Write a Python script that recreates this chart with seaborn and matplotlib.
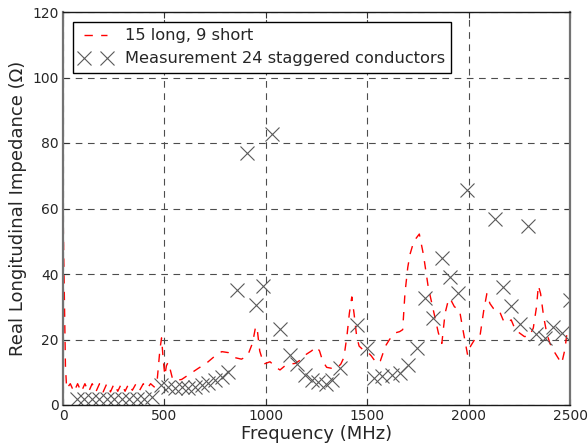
import numpy as np
import pandas as pd
import matplotlib
matplotlib.use("Agg")
import matplotlib.pyplot as plt
import seaborn as sns

# Simulated curve: 15 long, 9 short
sim_freq = [0, 6, 12, 18, 36, 54, 72, 90, 108, 126, 144, 162, 180, 198, 216, 234,
            252, 270, 288, 306, 324, 342, 360, 378, 396, 414, 432, 450, 465, 478,
            486, 494, 502, 510, 518, 528, 540, 555, 585, 626, 667, 708, 750, 783,
            815, 845, 880, 910, 935, 950, 958, 970, 990, 1021, 1050, 1070, 1095,
            1120, 1145, 1170, 1200, 1225, 1250, 1265, 1280, 1300, 1325, 1350, 1370,
            1385, 1400, 1412, 1424, 1435, 1448, 1460, 1480, 1500, 1520, 1547, 1565,
            1590, 1610, 1637, 1660, 1675, 1686, 1700, 1711, 1730, 1757, 1777, 1801,
            1826, 1851, 1868, 1884, 1900, 1908, 1930, 1955, 1975, 1995, 2010, 2030,
            2056, 2075, 2090, 2105, 2122, 2150, 2170, 2188, 2210, 2230, 2253, 2275,
            2300, 2319, 2335, 2344, 2355, 2370, 2385, 2401, 2425, 2445, 2459, 2475,
            2487, 2500]
sim_val = [60, 35, 12, 5, 6.5, 4, 6.5, 4, 6.5, 4, 6.5, 4, 6.5, 4, 6.5, 4,
           6.5, 4.2, 6.5, 4.2, 6.5, 4.5, 6.5, 4.5, 6.5, 5, 6.5, 5.5, 8, 17,
           20.5, 14, 9, 12, 13, 11, 8, 7.5, 7.8, 9.5, 11.2, 12.8, 15, 16.3,
           16, 14.5, 14, 15, 19, 24, 23, 16.5, 12.5, 13.2, 11.5, 10.7, 12,
           12.5, 12.7, 13.7, 15.5, 16.5, 17.8, 16.5, 13.5, 11.5, 11.2, 11.2, 12.5,
           14.5, 21, 28, 33, 28, 21, 18, 16.8, 16.3, 15, 12.7, 13.5,
           18, 20, 22, 22.4, 23, 34, 42, 46, 50, 52.2, 46, 36,
           29, 22, 18.8, 28, 32, 32.6, 30, 29, 22, 15.3, 18, 20,
           21, 29, 34, 31, 29.5, 29, 26, 25, 26, 23, 21.9, 20.9,
           21, 23.5, 30, 36.5, 34, 27, 22, 18.8, 16, 14, 12.7, 17,
           23, 24]

# Measurement, 24 staggered conductors
meas_freq = [70, 105, 141, 179, 215, 252, 289, 326, 363, 400, 437, 482, 519, 552,
             585, 618, 651, 684, 716, 750, 783, 815, 859, 907, 950, 988, 1030,
             1070, 1119, 1155, 1193, 1226, 1259, 1295, 1325, 1366, 1448, 1497,
             1535, 1575, 1620, 1662, 1703, 1744, 1785, 1826, 1867, 1908, 1949,
             1994, 2130, 2170, 2210, 2252, 2294, 2330, 2375, 2418, 2459, 2500]
meas_val = [1.8, 1.8, 1.8, 1.8, 1.8, 1.8, 1.8, 1.8, 1.8, 1.8, 2.3, 6, 5.6, 5.1,
            5.6, 5.1, 5.6, 6.1, 6.6, 7.6, 8.6, 10.2, 35, 77, 30.5, 36.4, 82.7,
            23.3, 15.3, 12.5, 9.2, 7.6, 7.1, 6.3, 7.6, 11.2, 24.4, 17.3,
            8.1, 9, 9.2, 9.7, 12.2, 17.3, 32.6, 26.5, 44.8, 39.2, 34.1,
            65.6, 56.7, 36, 30.2, 24.8, 54.7, 21.6, 20.6, 23.8, 22, 32.2]

sim_df = pd.DataFrame({"freq": sim_freq, "val": sim_val})
meas_df = pd.DataFrame({"freq": meas_freq, "val": meas_val})

sns.set_style("ticks")
plt.rcParams["font.family"] = ["DejaVu Sans"]
plt.rcParams["xtick.direction"] = "in"
plt.rcParams["ytick.direction"] = "in"

fig = plt.figure(figsize=(5.88, 4.43), dpi=100)
ax = fig.add_axes([63 / 588, 38 / 443, 507 / 588, 393 / 443])

sns.lineplot(data=sim_df, x="freq", y="val", ax=ax, color="red", lw=1.0,
             linestyle=(0, (6, 6)), label="15 long, 9 short", sort=False,
             estimator=None)
sns.lineplot(data=meas_df, x="freq", y="val", ax=ax, color="0.35",
             linestyle="", marker="x", markersize=10, markeredgewidth=0.8,
             markeredgecolor="0.35",
             label="Measurement 24 staggered conductors", sort=False,
             estimator=None)

ax.set_xlim(0, 2500)
ax.set_ylim(0, 120)
ax.set_xticks([0, 500, 1000, 1500, 2000, 2500])
ax.set_yticks([0, 20, 40, 60, 80, 100, 120])
ax.grid(True, color="0.3", linestyle=(0, (6, 5)), linewidth=0.8)
ax.tick_params(axis="both", labelsize=10, top=True, right=True, length=4,
               width=0.8, color="0.2", pad=3)
ax.set_xlabel("Frequency (MHz)", fontsize=13, labelpad=1)
ax.set_ylabel("Real Longitudinal Impedance (Ω)", fontsize=13)
for side in ["top", "bottom"]:
    ax.spines[side].set_color("0.1")
    ax.spines[side].set_linewidth(1.0)
for side in ["left", "right"]:
    ax.spines[side].set_color("0.45")
    ax.spines[side].set_linewidth(1.6)

leg = ax.legend(loc="upper left", numpoints=2, fontsize=11.7, fancybox=False,
                frameon=True, edgecolor="black", framealpha=1,
                borderaxespad=0.6, handlelength=2.0)
leg.get_frame().set_linewidth(1.0)

fig.savefig("out.png", dpi=100)
